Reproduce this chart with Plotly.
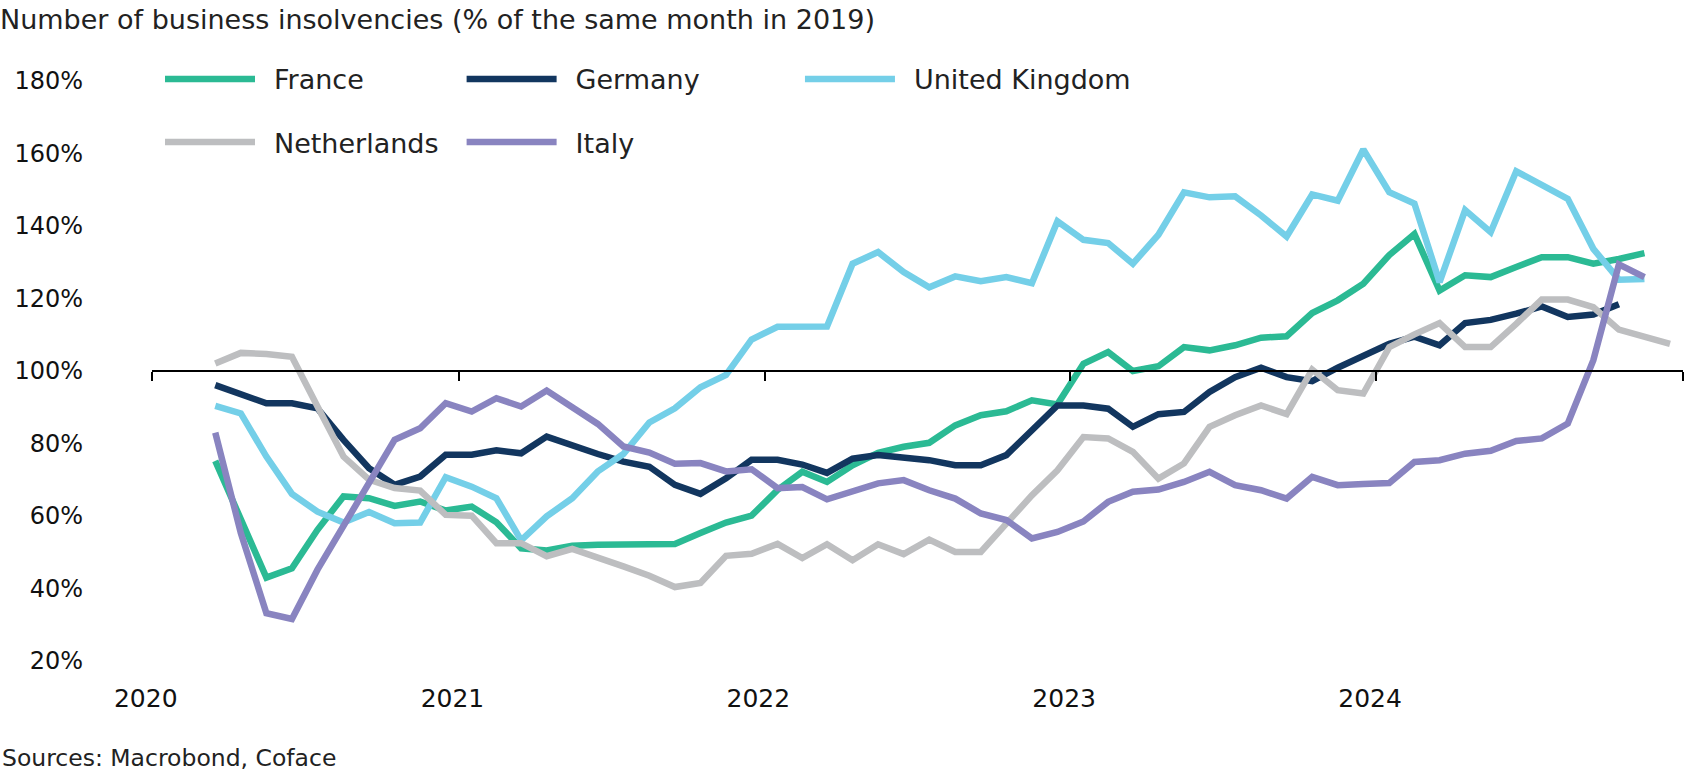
import pandas as pd
import plotly.graph_objects as go

# Monthly observations, starting March 2020
months = pd.date_range("2020-03-01", "2024-12-01", freq="MS").strftime("%Y-%m-%d").tolist()

france = [75.2, 59, 43, 45.6, 56.2, 65.4, 64.9, 62.8, 64, 61.5,
          62.6, 58.3, 51.1, 50.5, 51.8, 52.1, 52.3, 52.3, 52.3, 55.3, 58.2, 60.1,
          67.2, 72.2, 69.4, 74, 77.4, 79.1, 80.2, 85, 87.8, 88.9, 91.9, 90.8,
          102, 105.2, 100, 101.3, 106.6, 105.7, 107.1, 109.2, 109.6, 116, 119.5, 124.1,
          132, 137.8, 122.2, 126.4, 125.9, 128.7, 131.4, 131.4, 129.6, 130.9, 132.5]
germany = [96.1, 93.6, 91.1, 91.1, 89.7, 81, 73.2, 68.6, 70.9, 76.9,
           76.9, 78.1, 77.3, 81.9, 79.3, 77.1, 75, 73.6, 68.6, 66.1, 70.4, 75.5,
           75.5, 74.2, 71.9, 75.8, 76.8, 76.3, 75.4, 74, 74, 76.8, 83.8, 90.5,
           90.5, 89.6, 84.6, 88.1, 88.7, 94.2, 98.3, 100.9, 98.3, 97.2, 100.9, 104,
           107.5, 109.5, 107.1, 113.2, 114.1, 115.8, 117.8, 114.9, 115.6, 118.4]
uk = [90.4, 88.3, 76.4, 66.1, 61.2, 58.2, 61.1, 58, 58.2, 70.7,
      68.1, 64.9, 53.3, 59.9, 64.9, 72.3, 77.1, 85.8, 89.7, 95.5, 98.9, 108.7,
      112.2, 112.2, 112.3, 129.6, 132.8, 127.3, 123.1, 126.1, 124.8, 125.9, 124.2, 141.3,
      136.2, 135.3, 129.6, 137.6, 149.3, 147.9, 148.2, 142.9, 137.1, 148.7, 147, 161.1,
      149.3, 146.2, 124.5, 144.4, 138.3, 155.1, 151.2, 147.5, 133.7, 125.2, 125.4]
netherlands = [102.1, 105, 104.7, 103.9, 90.2, 76.4, 70, 67.7, 67, 60.3,
               60.1, 52.5, 52.5, 48.9, 50.9, 48.7, 46.1, 43.5, 40.4, 41.5, 49, 49.6,
               52.3, 48.4, 52.2, 47.8, 52.2, 49.5, 53.5, 50.1, 50.1, 57.9, 65.7, 72.6,
               81.8, 81.4, 77.7, 70.3, 74.5, 84.6, 87.8, 90.5, 88.1, 100.4, 94.7, 93.8,
               106.6, 110.1, 113.2, 106.6, 106.6, 113, 119.7, 119.7, 117.6, 111.4, 109.5, 107.5]
italy = [83, 55.3, 33.2, 31.6, 45.2, 57.1, 69.5, 81, 84.2, 91.1,
         88.8, 92.5, 90.2, 94.6, 90, 85.4, 79.2, 77.5, 74.4, 74.6, 72.3, 72.9,
         67.7, 68, 64.6, 66.7, 69, 69.9, 67.1, 64.8, 60.7, 58.9, 53.8, 55.6,
         58.5, 63.9, 66.7, 67.3, 69.4, 72.2, 68.5, 67.1, 64.8, 70.8, 68.5, 68.8,
         69.1, 74.9, 75.4, 77.2, 78, 80.7, 81.4, 85.5, 103, 129.4, 125.9]

year_ticks = ["2020-01-01", "2021-01-01", "2022-01-01", "2023-01-01", "2024-01-01"]
year_labels = ["2020", "2021", "2022", "2023", "2024"]
axis_ticks = year_ticks + ["2025-01-01"]
y_ticks = [20, 40, 60, 80, 100, 120, 140, 160, 180]
y_labels = [f"{v}%" for v in y_ticks]

series = [
    ("France", france, "#2BBA94", "legend"),
    ("Germany", germany, "#12365F", "legend2"),
    ("United Kingdom", uk, "#74CFE8", "legend3"),
    ("Netherlands", netherlands, "#BDBEC0", "legend"),
    ("Italy", italy, "#8984C0", "legend2"),
]

FONT = "DejaVu Sans"
TXT = "#222222"
PAD = "\u00a0\u2009"

fig = go.Figure()
for name, vals, color, leg in series:
    fig.add_trace(go.Scatter(
        x=months[:len(vals)], y=vals, name=PAD + name, mode="lines",
        line=dict(color=color, width=6.5),
        xperiod="M1", xperiodalignment="middle",
        legend=leg, legendgroup=name,
    ))

# carrier trace for the axis line drawn at 100%
fig.add_trace(go.Scatter(x=months, y=[None] * len(months), xaxis="x2",
                         showlegend=False, hoverinfo="skip", mode="lines"))

ymin, ymax = 20, 180
W, H = 1686, 772
L, R, T, B = 152, 3, 81, 111
pw = W - L - R
ph = H - T - B

leg_common = dict(xanchor="left", yanchor="top", orientation="v",
                  font=dict(size=27, color=TXT, family=FONT), itemwidth=90,
                  tracegroupgap=25, bgcolor="rgba(0,0,0,0)")

fig.update_layout(
    width=W, height=H,
    margin=dict(l=L, r=R, t=T, b=B),
    paper_bgcolor="white", plot_bgcolor="white",
    font=dict(family=FONT, color=TXT),
    showlegend=True,
    title=dict(text="Number of business insolvencies (% of the same month in 2019)",
               x=0.0, xref="container", xanchor="left",
               y=1 - 20 / H, yref="container", yanchor="middle",
               font=dict(size=27, color=TXT, family=FONT)),
    xaxis=dict(range=["2020-01-01", "2025-01-01"], tickvals=year_ticks,
               ticktext=[t + "\u2002" for t in year_labels],
               showgrid=False, zeroline=False, showline=False, ticks="",
               tickfont=dict(size=25, color="#111111", family=FONT),
               ticklabelstandoff=20),
    xaxis2=dict(range=["2020-01-01", "2025-01-01"], overlaying="x", anchor="free",
                position=(100 - ymin) / (ymax - ymin), tickvals=axis_ticks,
                showticklabels=False, showgrid=False, zeroline=False,
                showline=True, linecolor="#000000", linewidth=2,
                ticks="outside", ticklen=9, tickwidth=2, tickcolor="#000000"),
    yaxis=dict(range=[ymin, ymax], tickvals=y_ticks, ticktext=y_labels,
               showgrid=False, zeroline=False, showline=False, ticks="",
               tickfont=dict(size=24, color="#111111", family=FONT),
               ticklabelstandoff=68),
    legend=dict(x=8 / pw, y=1.045, **leg_common),
    legend2=dict(x=0.197 + 8 / pw, y=1.045, **leg_common),
    legend3=dict(x=0.418 + 8 / pw, y=1.045, **leg_common),
    annotations=[dict(text="Sources: Macrobond, Coface", x=-L / pw, y=(661 - 758) / ph,
                      xref="paper", yref="paper", xanchor="left", yanchor="middle",
                      showarrow=False, font=dict(size=23.5, color=TXT, family=FONT))],
)

fig.write_html("out.html", config={"displayModeBar": False},
               post_script="document.body.style.margin='0';")
